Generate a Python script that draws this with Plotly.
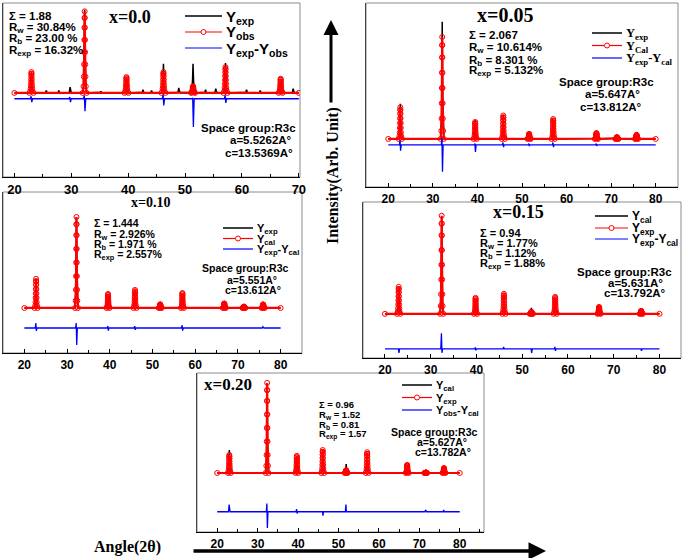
import plotly.graph_objects as go

W, H = 685, 558

# shape of a reflection: offset in 2theta, fraction of height
PROFILE_DX = [-0.35, -0.2, -0.14, -0.1, -0.075, -0.055, -0.035, -0.02, 0,
              0.02, 0.035, 0.055, 0.075, 0.1, 0.14, 0.2, 0.35]
PROFILE_FR = [0, 0.08, 0.2, 0.35, 0.5, 0.65, 0.8, 0.92, 1,
              0.92, 0.8, 0.65, 0.5, 0.35, 0.2, 0.08, 0]

# x = 0.0  (intensity in % of the strongest reflection)
PEAKS_000 = [23.0, 32.35, 39.7, 46.2, 51.4, 57.1, 66.8]
CAL_000 = [25, 98, 19, 25, 8, 31, 17]
EXP_000 = [20, 100, 16, 35, 35, 36, 12]
BUMPS_000 = [25.6, 27.8, 29.8, 35.2, 42.6, 44.1, 48.9, 53.6, 55.4, 60.8, 63.2, 69.0]
BUMPS_H_000 = [3, 3, 7, 2, 4, 3, 6, 4, 5, 4, 3, 5]
DIFF_AT_000 = [23.0, 29.8, 32.35, 46.2, 51.4, 57.1]
DIFF_UP_000 = [3, 2, 4, 5, 1, 4]
DIFF_DN_000 = [-4, -4, -15, -8, -34, -5]
DIFF_OFF_000 = -7

# x = 0.05
PEAKS_005 = [22.7, 32.1, 39.5, 45.8, 51.6, 57.0, 66.7, 71.3, 75.7]
CAL_005 = [27, 87, 14.5, 20, 4.3, 17, 5, 1.5, 3.5]
EXP_005 = [30, 100, 16, 20.5, 4, 17, 5, 1.5, 3.5]
DIFF_AT_005 = [22.7, 32.1, 39.5, 45.8, 51.6, 57.0, 66.7]
DIFF_UP_005 = [4, 6, 1, 2, 1, 2, 1]
DIFF_DN_005 = [-5, -23, -6, -2, -1, -2, -1]
DIFF_OFF_005 = -5

# x = 0.10
PEAKS_010 = [22.75, 32.2, 39.6, 45.9, 51.8, 57.0, 66.8, 71.4, 75.9]
CAL_010 = [32, 100, 15.4, 19.8, 4, 16.5, 5, 1.5, 4]
EXP_010 = [31, 100, 15, 19, 4, 16, 5, 1.5, 4]
DIFF_AT_010 = [22.75, 32.2, 39.6, 45.9, 57.0, 75.9]
DIFF_UP_010 = [5.5, 5.5, 2, 2, 3, 1.5]
DIFF_DN_010 = [-3.3, -18.7, -3, -2, -3, 0]
DIFF_OFF_010 = -22

# x = 0.15
PEAKS_015 = [23.0, 32.4, 39.8, 46.0, 52.0, 57.2, 66.8, 76.0]
CAL_015 = [27.5, 100, 16.3, 20.4, 2, 17.3, 7, 3]
EXP_015 = [27, 99, 16, 20, 6, 17, 6, 3]
DIFF_AT_015 = [23.0, 32.4, 39.8, 46.0, 52.0, 57.2, 76.0]
DIFF_UP_015 = [0, 16, 1.5, 2, 0, 2, 0]
DIFF_DN_015 = [-4, -4, -1.5, 0, -4, -2, -2]
DIFF_OFF_015 = -35.7

# x = 0.20
PEAKS_020 = [23.0, 32.35, 39.7, 46.1, 51.9, 57.1, 67.0, 71.6, 76.1]
CAL_020 = [20, 100, 19, 25.5, 3, 23, 9, 0.5, 5.5]
EXP_020 = [25.5, 100, 18, 25, 10, 22, 8, 1.5, 5]
DIFF_AT_020 = [23.0, 32.35, 39.7, 46.1, 51.9, 71.6, 76.1]
DIFF_UP_020 = [8, 9, 3, 0, 8, 2, 2]
DIFF_DN_020 = [0, -18, -2, -4.5, 0, 0, 0]
DIFF_OFF_020 = -43


def pattern(lo, hi, pos, heights, extra_pos=(), extra_h=()):
    pts = [(lo, 0), (hi, 0)]
    for p, h in zip(list(pos) + list(extra_pos), list(heights) + list(extra_h)):
        for dx, fr in zip(PROFILE_DX, PROFILE_FR):
            pts.append((p + dx, h * fr))
    pts.sort(key=lambda t: t[0])
    return [t[0] for t in pts], [t[1] for t in pts]


def difference(lo, hi, pos, up, dn, off):
    xs, ys = [lo], [off]
    for p, u, d in zip(pos, up, dn):
        xs += [p - 0.2, p - 0.06, p + 0.06, p + 0.2]
        ys += [off, off + u, off + d, off]
    xs.append(hi)
    ys.append(off)
    return xs, ys


panels = [
    dict(title="x=0.0", scan=(20, 70), pos=PEAKS_000, cal=CAL_000, exp=EXP_000,
         bumps=(BUMPS_000, BUMPS_H_000),
         diff=(DIFF_AT_000, DIFF_UP_000, DIFF_DN_000, DIFF_OFF_000),
         names=["Y<sub>exp</sub>", "Y<sub>obs</sub>", "Y<sub>exp</sub>-Y<sub>obs</sub>"],
         stats=["Σ = 1.88", "R<sub>w</sub> = 30.84%", "R<sub>b</sub> = 23.00 %", "R<sub>exp</sub> = 16.32%"],
         cell=["Space group:R3c", "a=5.5262A°", "c=13.5369A°"],
         box=(3, 300, 3, 177), xr=(18, 70.2), yr=(-101, 108), tick=13,
         ttl=(130, 17, 18), st=(7, [16, 26.5, 37.5, 49], 11.5),
         sg=([(199, 128), (228, 140), (223, 152.5)], 11.5),
         lg=(185, [16, 32, 48], 15, 37, "Liberation Sans")),
    dict(title="x=0.05", scan=(20, 80), pos=PEAKS_005, cal=CAL_005, exp=EXP_005,
         diff=(DIFF_AT_005, DIFF_UP_005, DIFF_DN_005, DIFF_OFF_005),
         names=["Y<sub>exp</sub>", "Y<sub>Cal</sub>", "Y<sub>exp</sub>-Y<sub>cal</sub>"],
         stats=["Σ = 2.067", "R<sub>w</sub> = 10.614%", "R<sub>b</sub> = 8.301 %", "R<sub>exp</sub> = 5.132%"],
         cell=["Space group:R3c", "a=5.647A°", "c=13.812A°"],
         box=(366, 678, 3, 187), xr=(15, 85), yr=(-41, 116), tick=12,
         ttl=(505, 15, 20), st=(467, [35, 46.7, 59, 70], 11.5),
         sg=([(557, 82), (583, 94.5), (578, 107)], 11.5),
         lg=(592, [33, 45.5, 58], 12.5, 30, "Liberation Serif")),
    dict(title="x=0.10", scan=(20, 80), pos=PEAKS_010, cal=CAL_010, exp=EXP_010,
         diff=(DIFF_AT_010, DIFF_UP_010, DIFF_DN_010, DIFF_OFF_010),
         names=["Y<sub>exp</sub>", "Y<sub>cal</sub>", "Y<sub>exp</sub>-Y<sub>cal</sub>"],
         stats=["Σ = 1.444", "R<sub>w</sub> = 2.926%", "R<sub>b</sub> = 1.971 %", "R<sub>exp</sub> = 2.557%"],
         cell=["Space group:R3c", "a=5.551A°", "c=13.612A°"],
         box=(3, 302, 192, 353), xr=(15, 85), yr=(-49.5, 127.5), tick=12,
         ttl=(150, 202, 14), st=(92, [223, 233, 243, 253], 10.5),
         sg=([(200, 268), (225, 279.5), (223, 290)], 10.5),
         lg=(223, [228, 238.5, 249], 11, 30, "Liberation Sans")),
    dict(title="x=0.15", scan=(20, 80), pos=PEAKS_015, cal=CAL_015, exp=EXP_015,
         diff=(DIFF_AT_015, DIFF_UP_015, DIFF_DN_015, DIFF_OFF_015),
         names=["Y<sub>cal</sub>", "Y<sub>exp</sub>", "Y<sub>exp</sub>-Y<sub>cal</sub>"],
         stats=["Σ = 0.94", "R<sub>w</sub> = 1.77%", "R<sub>b</sub> = 1.12%", "R<sub>exp</sub> = 1.88%"],
         cell=["Space group:R3c", "a=5.631A°", "c=13.792A°"],
         box=(363, 681, 202, 358), xr=(15.2, 84.7), yr=(-45, 114), tick=12,
         ttl=(518, 212, 18), st=(478, [233, 242.5, 252, 262], 11),
         sg=([(575, 272), (606, 283), (602, 293)], 11.5),
         lg=(595, [216, 228, 239], 12, 33, "Liberation Sans")),
    dict(title="x=0.20", scan=(20, 80), pos=PEAKS_020, cal=CAL_020, exp=EXP_020,
         diff=(DIFF_AT_020, DIFF_UP_020, DIFF_DN_020, DIFF_OFF_020),
         names=["Y<sub>cal</sub>", "Y<sub>exp</sub>", "Y<sub>obs</sub>-Y<sub>cal</sub>"],
         stats=["Σ = 0.96", "R<sub>w</sub> = 1.52", "R<sub>b</sub> = 0.81", "R<sub>exp</sub> = 1.57"],
         cell=["Space group:R3c", "a=5.627A°", "c=13.782A°"],
         box=(197, 484, 373, 532), xr=(15, 86), yr=(-65.5, 111), tick=12,
         ttl=(228, 384, 17), st=(317, [404, 413, 423, 433], 9.5),
         sg=([(389, 432), (415, 442), (413, 452)], 10.5),
         lg=(402, [385, 397.5, 410], 11, 30, "Liberation Sans")),
]

COLORS = ["black", "#ff0000", "#0000ff"]


def px(xp, yp):
    return xp / W, 1 - yp / H


def label(xp, yp, text, size, family="Liberation Sans", anchor="left"):
    x, y = px(xp, yp)
    return dict(x=x, y=y, xref="paper", yref="paper", text=text, showarrow=False,
                xanchor=anchor, yanchor="middle",
                font=dict(family=family, size=size, color="black", weight="bold"))


fig = go.Figure()
annotations = []
shapes = []
layout = {}

for i, pn in enumerate(panels):
    k = "" if i == 0 else str(i + 1)
    xa, ya = "x" + k, "y" + k
    lo, hi = pn["scan"]

    bx, by = pattern(lo, hi, pn["pos"], pn["exp"], *pn.get("bumps", ((), ())))
    rx, ry = pattern(lo, hi, pn["pos"], pn["cal"])
    dx, dy = difference(lo, hi, *pn["diff"])

    fig.add_trace(go.Scatter(x=bx, y=by, mode="lines", name=pn["names"][0],
                             line=dict(color=COLORS[0], width=1.5),
                             xaxis=xa, yaxis=ya, showlegend=False))
    fig.add_trace(go.Scatter(x=rx, y=ry, mode="lines+markers", name=pn["names"][1],
                             line=dict(color=COLORS[1], width=2.2),
                             marker=dict(symbol="circle-open", size=5, color=COLORS[1],
                                         line=dict(width=1)),
                             xaxis=xa, yaxis=ya, showlegend=False))
    fig.add_trace(go.Scatter(x=dx, y=dy, mode="lines", name=pn["names"][2],
                             line=dict(color=COLORS[2], width=1.3),
                             xaxis=xa, yaxis=ya, showlegend=False))

    x0, x1, y0, y1 = pn["box"]
    layout["xaxis" + k] = dict(
        domain=[x0 / W, x1 / W], range=list(pn["xr"]), anchor=ya,
        showgrid=False, zeroline=False, showline=True, linecolor="black", linewidth=1.2,
        ticks="inside", ticklen=4, tickcolor="black", tick0=0, dtick=10,
        minor=dict(ticks="inside", ticklen=3, dtick=5, tickcolor="black"),
        tickfont=dict(family="Liberation Sans", size=pn["tick"], color="black", weight="bold"),
    )
    layout["yaxis" + k] = dict(
        domain=[1 - y1 / H, 1 - y0 / H], range=list(pn["yr"]), anchor=xa,
        showgrid=False, zeroline=False, showticklabels=False, ticks="",
        showline=True, linecolor="#444", linewidth=1,
    )
    shapes.append(dict(type="rect", xref=xa + " domain", yref=ya + " domain",
                       x0=0, x1=1, y0=0, y1=1, line=dict(color="#8c8c8c", width=1),
                       layer="below"))

    # legend: key line, key marker and label for each series
    lx, lys, lsize, lwidth, lfam = pn["lg"]
    for j, (name, ly) in enumerate(zip(pn["names"], lys)):
        ax0, ay0 = px(lx, ly)
        ax1, _ = px(lx + lwidth, ly)
        shapes.append(dict(type="line", xref="paper", yref="paper", x0=ax0, x1=ax1,
                           y0=ay0, y1=ay0,
                           line=dict(color=COLORS[j], width=1.5 if j == 0 else 1.2)))
        if j == 1:
            cx0, cy0 = px(lx + lwidth / 2 - 2.5, ly - 2.5)
            cx1, cy1 = px(lx + lwidth / 2 + 2.5, ly + 2.5)
            shapes.append(dict(type="circle", xref="paper", yref="paper",
                               x0=cx0, x1=cx1, y0=cy1, y1=cy0, fillcolor="white",
                               line=dict(color=COLORS[1], width=1)))
        annotations.append(label(lx + lwidth + 2, ly + 1, name, lsize, lfam))

    tx, ty, tsize = pn["ttl"]
    annotations.append(label(tx, ty, pn["title"], tsize, "Liberation Serif", "center"))
    sx, sys_, ssize = pn["st"]
    for line, yy in zip(pn["stats"], sys_):
        annotations.append(label(sx, yy + (1.5 if "sub" in line else 0), line, ssize))
    sg_pos, sg_size = pn["sg"]
    for line, (gx, gy) in zip(pn["cell"], sg_pos):
        annotations.append(label(gx, gy, line, sg_size))

# common axis labels with arrows
annotations.append(dict(x=331 / W, y=1 - 20 / H, xref="paper", yref="paper", text="",
                        showarrow=True, ax=0, ay=84, axref="pixel", ayref="pixel",
                        arrowhead=2, arrowsize=1, arrowwidth=3, arrowcolor="black"))
lab = label(333, 176, "Intensity(Arb. Unit)", 16, "Liberation Serif", "center")
lab["textangle"] = -90
annotations.append(lab)
annotations.append(dict(x=546 / W, y=1 - 551 / H, xref="paper", yref="paper", text="",
                        showarrow=True, ax=-354, ay=0, axref="pixel", ayref="pixel",
                        arrowhead=2, arrowsize=1, arrowwidth=3.5, arrowcolor="black"))
annotations.append(label(128, 547, "Angle(2θ)", 16, "Liberation Serif", "center"))

fig.update_layout(
    width=W, height=H, margin=dict(l=0, r=0, t=0, b=0, autoexpand=False),
    paper_bgcolor="white", plot_bgcolor="white", showlegend=False,
    annotations=annotations, shapes=shapes, **layout,
)

# the page body keeps the browser's default margin otherwise
fig.write_html("out.html", config={"displayModeBar": False},
               post_script="document.body.style.margin='0';")
